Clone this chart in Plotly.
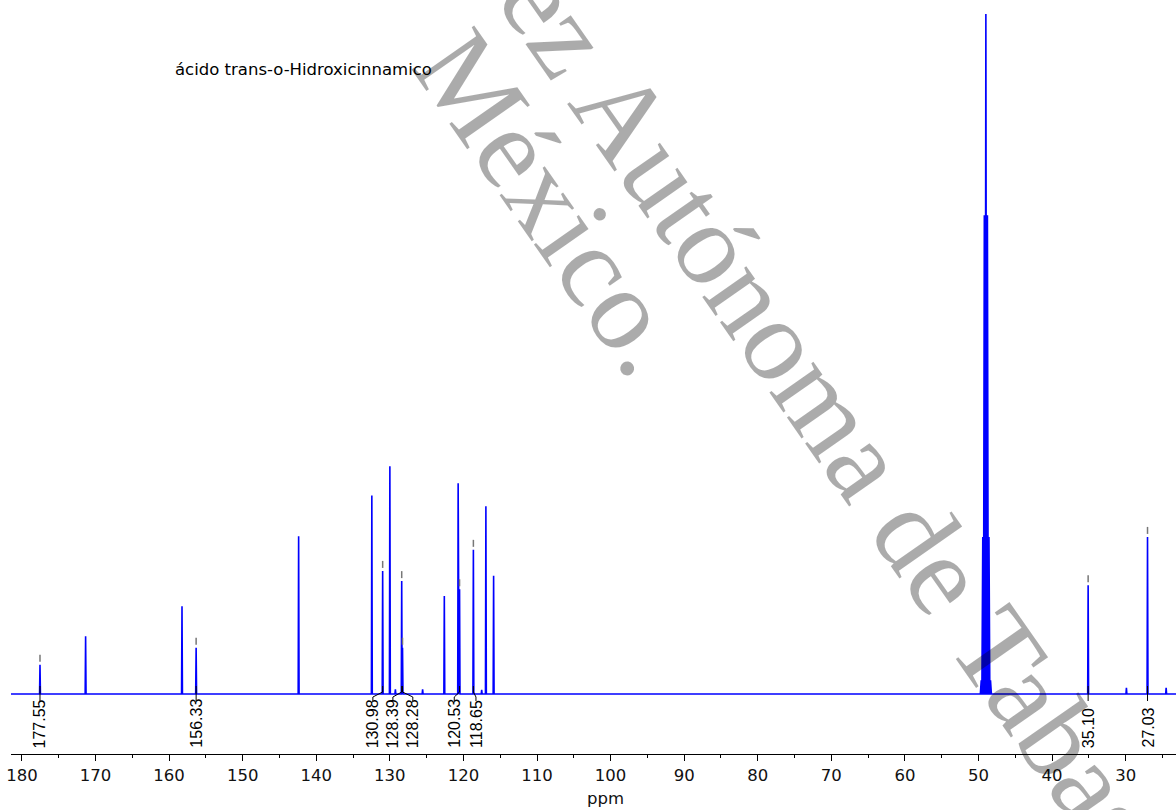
import plotly.graph_objects as go

# 13C NMR peak list: chemical shift (ppm) and relative intensity (CD3OD centre line = 100)
peak_ppm = [177.55, 171.35, 158.25, 156.33, 142.40, 132.45, 130.98, 130.00, 129.25,
            128.39, 128.28, 125.55, 122.60, 120.72, 120.53, 118.65, 117.52, 116.95,
            115.90, 35.10, 29.90, 27.03, 24.50]
peak_int = [4.3, 8.5, 12.9, 6.8, 23.2, 29.2, 18.1, 33.5, 0.7,
            16.6, 6.8, 0.7, 14.4, 31.0, 15.4, 21.2, 0.6, 27.6,
            17.4, 16.0, 0.9, 23.1, 0.9]

# solvent septet (CD3OD)
solvent_ppm = [49.63, 49.42, 49.21, 49.00, 48.79, 48.58, 48.37]
solvent_int = [2.0, 23.1, 70.4, 100.0, 70.4, 23.1, 2.0]

# picked peaks and where their labels sit along the axis
label_ppm = [177.55, 156.33, 130.98, 128.39, 128.28, 120.53, 118.65, 35.10, 27.03]
label_at = [177.55, 156.33, 132.31, 129.59, 126.88, 121.25, 118.30, 35.10, 27.03]

tick_vals = [180, 170, 160, 150, 140, 130, 120, 110, 100, 90, 80, 70, 60, 50, 40, 30]
title_text = "ácido trans-o-Hidroxicinnamico"
axis_title = "ppm"
watermark_1 = "Universidad Juárez Autónoma de Tabasco."
watermark_2 = "México."

X_RANGE = [181.49, 23.16]
Y_RANGE = [-8.824, 102.06]
W, H = 1176, 810
M_L, M_R, M_T, M_B = 11, 0, 0, 56
PX = (H - M_T - M_B) / (Y_RANGE[1] - Y_RANGE[0])  # pixels per intensity unit


def px(n):
    return n / PX


# spectrum trace: narrow line shapes built from the peak list
lines = sorted(zip(peak_ppm + solvent_ppm, peak_int + solvent_int,
                   [0.06] * len(peak_ppm) + [0.12] * len(solvent_ppm)),
               key=lambda t: -t[0])
sx, sy = [X_RANGE[0]], [0.0]
for c, h, w in lines:
    sx += [c + w, c, c - w]
    sy += [0.0, h, 0.0]
sx.append(X_RANGE[1])
sy.append(0.0)

fig = go.Figure()
fig.add_trace(go.Scatter(x=sx, y=sy, mode="lines",
                         line=dict(color="#0000ff", width=1.6),
                         hoverinfo="skip", showlegend=False))

height_of = dict(zip(peak_ppm, peak_int))

# black connectors from each picked peak down to its label
cx, cy = [], []
for p, a in zip(label_ppm, label_at):
    cx += [p, p, a, a, None]
    cy += [px(8), px(2), px(-3), px(-7), None]
fig.add_trace(go.Scatter(x=cx, y=cy, mode="lines",
                         line=dict(color="black", width=1),
                         hoverinfo="skip", showlegend=False))

# grey pick marks above the picked peaks
gx, gy = [], []
for p in label_ppm:
    h = height_of[p]
    gx += [p, p, None]
    gy += [h + px(3), h + px(10), None]
fig.add_trace(go.Scatter(x=gx, y=gy, mode="lines",
                         line=dict(color="#777777", width=1.5),
                         hoverinfo="skip", showlegend=False))

annotations = []
for p, a in zip(label_ppm, label_at):
    annotations.append(dict(
        x=a, y=px(-56), xref="x", yref="y", text=f"{p:.2f}", textangle=-90,
        showarrow=False, xanchor="center", yanchor="bottom",
        font=dict(family="Liberation Sans, Arial", size=16, color="black")))

plot_w = W - M_L - M_R
plot_h = H - M_T - M_B


def paper(xp, yp):
    return (xp - M_L) / plot_w, 1 - (yp - M_T) / plot_h


tx, ty = paper(173, 69)
annotations.append(dict(x=tx, y=ty, xref="paper", yref="paper", text=title_text,
                        showarrow=False, xanchor="left", yanchor="middle",
                        font=dict(family="DejaVu Sans, Verdana", size=16.5, color="black")))

ax_, ay_ = paper(605, 798)
annotations.append(dict(x=ax_, y=ay_, xref="paper", yref="paper", text=axis_title,
                        showarrow=False, xanchor="center", yanchor="middle",
                        font=dict(family="DejaVu Sans, Verdana", size=16.5, color="#111")))

for txt, (xp, yp) in [(watermark_1, (642, 141)), (watermark_2, (553, 202))]:
    wx, wy = paper(xp, yp)
    annotations.append(dict(x=wx, y=wy, xref="paper", yref="paper", text=txt,
                            showarrow=False, xanchor="center", yanchor="middle",
                            textangle=55,
                            font=dict(family="Liberation Serif, Times New Roman", size=117,
                                      color="rgba(0,0,0,0.33)")))

fig.update_layout(
    width=W, height=H,
    margin=dict(l=M_L, r=M_R, t=M_T, b=M_B),
    paper_bgcolor="white", plot_bgcolor="white",
    showlegend=False,
    annotations=annotations,
    xaxis=dict(range=X_RANGE, tickvals=tick_vals, ticks="outside", ticklen=6,
               tickcolor="black", showline=True, linecolor="black", linewidth=1,
               showgrid=False, zeroline=False,
               minor=dict(dtick=5, ticks="outside", ticklen=3, tickcolor="black"),
               tickfont=dict(family="DejaVu Sans, Verdana", size=16.5, color="#111")),
    yaxis=dict(range=Y_RANGE, visible=False, showgrid=False, zeroline=False),
)

fig.write_html("out.html")
